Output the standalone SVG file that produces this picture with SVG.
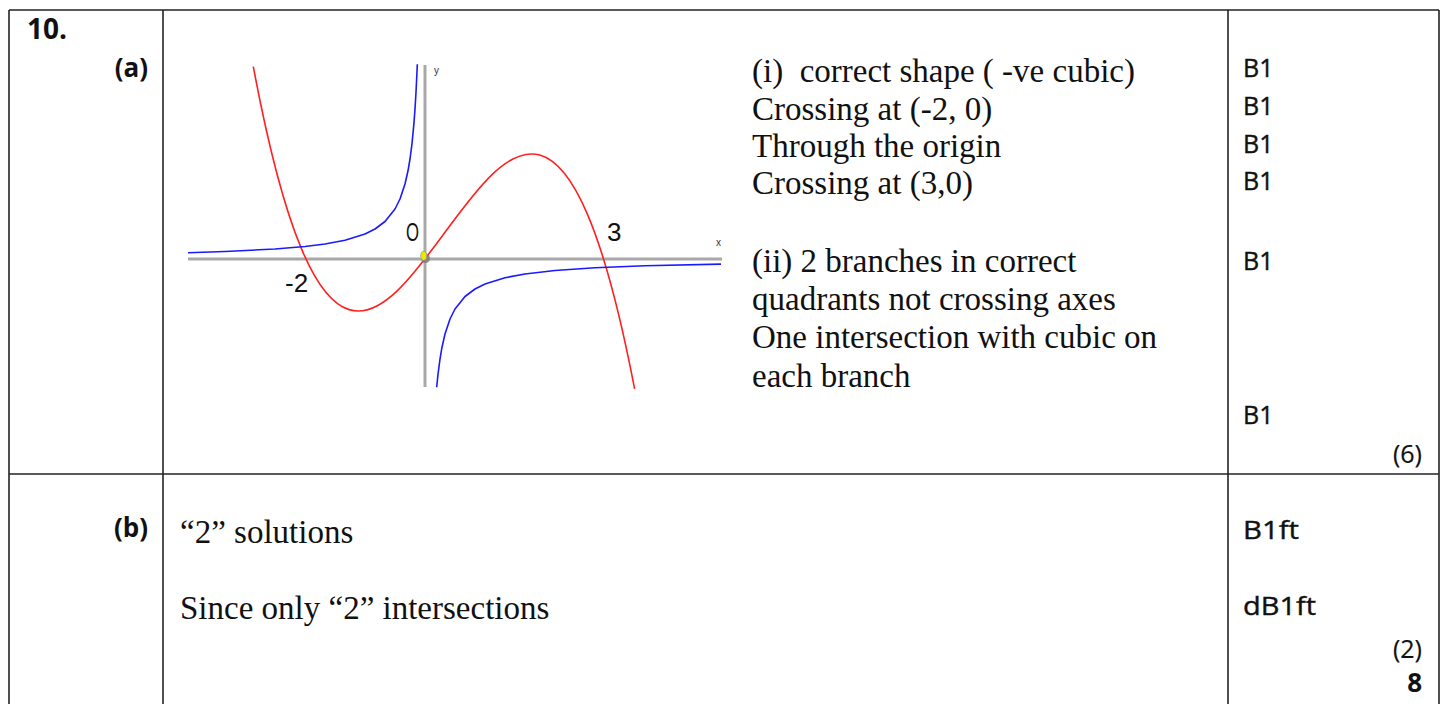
<svg xmlns="http://www.w3.org/2000/svg" width="1448" height="704" viewBox="0 0 1448 704">
<style>
.rule{stroke:#222;stroke-width:1.6;fill:none}
.serif{font-family:"Liberation Serif","Times New Roman",serif;font-size:33px;fill:#111}
.sans{font-family:"Open Sans","DejaVu Sans",sans-serif;font-size:25px;font-weight:normal;fill:#111;stroke:#111;stroke-width:0.4}
.bold{font-family:"Open Sans","DejaVu Sans",sans-serif;font-weight:bold;font-size:26px;fill:#111;stroke:none}
.axis{stroke:#a8a8a8;stroke-width:3;fill:none}
.cubic{stroke:#ff2020;stroke-width:1.6;fill:none}
.hyp{stroke:#1a1aff;stroke-width:1.6;fill:none;stroke-linejoin:round}
.lbl{font-family:"Liberation Sans",Arial,sans-serif;font-size:26px;fill:#111}
.tiny{font-family:"Liberation Sans",Arial,sans-serif;font-size:10px;fill:#333}
</style>
<rect width="1448" height="704" fill="#fff"/>
<g id="table">
<line class="rule" x1="9" y1="10" x2="1439" y2="10"/>
<line class="rule" x1="9" y1="474" x2="1439" y2="474"/>
<line class="rule" x1="9" y1="10" x2="9" y2="704"/>
<line class="rule" x1="163" y1="10" x2="163" y2="704"/>
<line class="rule" x1="1228" y1="10" x2="1228" y2="704"/>
<line class="rule" x1="1439" y1="10" x2="1439" y2="704"/>
</g>
<g id="labels-left">
<text class="bold" x="27" y="39" style="font-size:28px">10.</text>
<text class="bold" x="148" y="77" text-anchor="end">(a)</text>
<text class="bold" x="148" y="537" text-anchor="end">(b)</text>
</g>
<g id="graph">
<line class="axis" x1="188" y1="259" x2="722" y2="259"/>
<line class="axis" x1="425" y1="65" x2="425" y2="387"/>
<path class="cubic" d="M253.3,66.7 C380.4,743.1 507.5,-271.8 634.6,388.9"/>
<polyline class="hyp" points="188,252.7 225,251.5 275,249 305,246.5 325,244 345,240.25 365,234 375,229 385,221.5 395,209 400,199 405,184 408,170.8 410,159 412,143.6 414,122.6 415,109 416,92.3 417,71.5 417.3,64.2"/>
<polyline class="hyp" points="436.7,387.2 437,384 438,374.4 440,359 442,347.2 445,334 450,319 455,309 465,296.5 475,289 485,284 505,277.75 525,274 555,270.5 595,267.8 645,265.8 721,264.1"/>
<circle cx="425.5" cy="258.5" r="4.5" fill="#777" opacity="0.8"/>
<ellipse cx="423.7" cy="255.8" rx="3" ry="4.5" fill="#e8e800" stroke="#999" stroke-width="0.8"/>
<text class="lbl" x="406" y="241" textLength="13" lengthAdjust="spacingAndGlyphs">O</text>
<text class="lbl" x="607" y="241">3</text>
<text class="lbl" x="285" y="292">-2</text>
<text class="tiny" x="434" y="74">y</text>
<text class="tiny" x="716" y="246">x</text>
</g>
<g id="text-a" class="serif">
<text x="752" y="82" xml:space="preserve">(i)  correct shape ( -ve cubic)</text>
<text x="752" y="120">Crossing at (-2, 0)</text>
<text x="752" y="157">Through the origin</text>
<text x="752" y="194">Crossing at (3,0)</text>
<text x="752" y="272">(ii) 2 branches in correct</text>
<text x="752" y="310">quadrants not crossing axes</text>
<text x="752" y="348">One intersection with cubic on</text>
<text x="752" y="387">each branch</text>
</g>
<g id="text-b" class="serif">
<text x="180" y="543">“2” solutions</text>
<text x="180" y="619">Since only “2” intersections</text>
</g>
<g id="marks" class="sans">
<text x="1243" y="77">B1</text>
<text x="1243" y="115">B1</text>
<text x="1243" y="153">B1</text>
<text x="1243" y="190">B1</text>
<text x="1243" y="270">B1</text>
<text x="1243" y="424">B1</text>
<text x="1422" y="463" text-anchor="end" style="stroke-width:0.2">(6)</text>
<text x="1243" y="539" textLength="56" lengthAdjust="spacingAndGlyphs">B1ft</text>
<text x="1243" y="615" textLength="73" lengthAdjust="spacingAndGlyphs">dB1ft</text>
<text x="1422" y="658" text-anchor="end" style="stroke-width:0.2">(2)</text>
<text x="1422" y="692" text-anchor="end" class="bold">8</text>
</g>
</svg>
